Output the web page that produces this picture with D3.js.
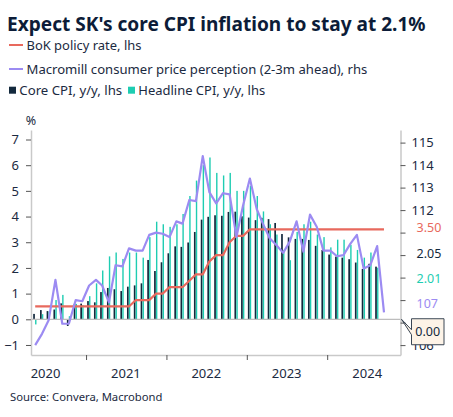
<!DOCTYPE html>
<html>
<head>
<meta charset="utf-8">
<script src="https://cdn.jsdelivr.net/npm/d3@7"></script>
<style>
  html, body { margin: 0; padding: 0; background: #fff; }
  svg text { font-family: "Noto Sans", "Open Sans", sans-serif; }
</style>
</head>
<body>
<div id="chart"></div>
<script>
/*
    SK inflation chart: core / headline CPI bars, BoK rate and
    Macromill price perception lines
*/

// monthly categories, May 2020 .. Sep 2024
var months = [
    "2020-05", "2020-06", "2020-07", "2020-08", "2020-09", "2020-10", "2020-11", "2020-12",
    "2021-01", "2021-02", "2021-03", "2021-04", "2021-05", "2021-06",
    "2021-07", "2021-08", "2021-09", "2021-10", "2021-11", "2021-12",
    "2022-01", "2022-02", "2022-03", "2022-04", "2022-05", "2022-06",
    "2022-07", "2022-08", "2022-09", "2022-10", "2022-11", "2022-12",
    "2023-01", "2023-02", "2023-03", "2023-04", "2023-05", "2023-06",
    "2023-07", "2023-08", "2023-09", "2023-10", "2023-11", "2023-12",
    "2024-01", "2024-02", "2024-03", "2024-04", "2024-05", "2024-06",
    "2024-07", "2024-08", "2024-09"
]

// Core CPI y/y, lhs (May 2020 .. Aug 2024)
var coreCPI = [
    0.21, 0.36, 0.32, 0.38, 0.62, -0.26, 0.60, 0.61, 0.71, 0.66,
    1.06, 1.22, 1.17, 1.10, 1.27, 1.32, 1.40, 2.31, 1.88, 2.22,
    2.57, 2.84, 2.82, 2.99, 3.40, 3.88, 3.99, 4.05, 4.03, 4.18,
    4.19, 4.01, 3.96, 3.86, 3.95, 3.90, 3.75, 3.32, 3.19, 3.13,
    3.13, 3.09, 2.86, 2.70, 2.52, 2.44, 2.40, 2.34, 2.21, 1.96,
    2.16, 2.05
]

// Headline CPI y/y, lhs (May 2020 .. Aug 2024)
var headlineCPI = [
    -0.2, 0.2, 0.3, 0.75, 0.95, 0.12, 0.6, 0.55, 0.9, 1.4,
    1.9, 2.45, 2.6, 2.35, 2.6, 2.6, 2.4, 3.2, 3.8, 3.7,
    3.6, 3.7, 4.1, 4.8, 5.4, 6.0, 6.3, 5.7, 5.6, 5.7,
    5.0, 5.0, 5.2, 4.8, 4.2, 3.7, 3.3, 2.7, 2.3, 3.4,
    3.7, 3.8, 3.3, 3.2, 2.8, 3.1, 3.1, 2.9, 2.7, 2.4,
    2.6, 2.01
]

// BoK policy rate, lhs (May 2020 .. Sep 2024)
var bokRate = [
    0.5, 0.5, 0.5, 0.5, 0.5, 0.5, 0.5, 0.5, 0.5, 0.5,
    0.5, 0.5, 0.5, 0.5, 0.5, 0.75, 0.75, 0.75, 1.0, 1.0,
    1.25, 1.25, 1.25, 1.5, 1.75, 1.75, 2.25, 2.5, 2.5, 3.0,
    3.25, 3.25, 3.5, 3.5, 3.5, 3.5, 3.5, 3.5, 3.5, 3.5,
    3.5, 3.5, 3.5, 3.5, 3.5, 3.5, 3.5, 3.5, 3.5, 3.5,
    3.5, 3.5, 3.5
]

// Macromill consumer price perception (2-3m ahead), rhs (May 2020 .. Sep 2024)
var macromill = [
    106.0, 106.5, 107.1, 108.9, 106.95, 106.95, 108.0, 107.95, 108.65, 108.9,
    108.65, 107.9, 109.55, 109.5, 110.3, 110.2, 110.2, 110.9, 111.0, 110.95,
    110.8, 111.5, 111.4, 112.45, 112.4, 114.4, 112.8, 112.3, 112.75, 112.7,
    110.8, 112.2, 113.4, 112.05, 111.4, 110.75, 110.45, 110.1, 110.6, 111.5,
    110.15, 111.8, 111.25, 110.2, 110.2, 109.95, 110.0, 110.5, 110.9, 109.4,
    109.55, 110.4, 107.45
]

// axis ticks
var leftTicks = [-1, 0, 1, 2, 3, 4, 5, 6, 7]
var rightTicks = [106, 107, 108, 109, 110, 111, 112, 113, 114, 115]
var rightTickLabels = [106, 112, 113, 114, 115]
var yearTicks = ["2021-01-01", "2022-01-01", "2023-01-01", "2024-01-01"]
var yearLabels = ["2020", "2021", "2022", "2023", "2024"]

var colors = {
    core: "#13293d",
    headline: "#1ecdb2",
    bok: "#e8695d",
    macro: "#9c8bf2",
    text: "#1b2a41",
    axis: "#c9c9c9"
}

var W = 453, H = 417

var svg = d3.select("#chart").append("svg")
    .attr("width", W)
    .attr("height", H)
    .style("background", "#fff")

var parseMonth = d3.timeParse("%Y-%m")
var midMonth = function( m ) {
    var d = parseMonth(m)
    return new Date(d.getFullYear(), d.getMonth(), 15)
}

// plot frame
var plot = { left: 31, right: 400.5, top: 130, bottom: 355 }

var x = d3.scaleTime()
    .domain([new Date(2020, 3, 26), new Date(2024, 10, 29)])
    .range([plot.left, plot.right])

var yL = d3.scaleLinear()
    .domain([-1.39, 7.37])
    .range([plot.bottom, plot.top])

var yR = d3.scaleLinear()
    .domain([105.56, 115.56])
    .range([plot.bottom, plot.top])

function fit(sel, w) {
    var L = sel.node().getComputedTextLength()
    var fs = parseFloat(sel.attr("font-size"))
    sel.attr("font-size", fs * w / L)
}

// Title
svg.append("text")
    .attr("x", 7)
    .attr("y", 30.5)
    .attr("font-size", 19)
    .attr("font-weight", "bold")
    .attr("fill", "#0c1c38")
    .text("Expect SK's core CPI inflation to stay at 2.1%")
    .call(fit, 419)

// Legend
var legendLines = [
    { label: "BoK policy rate, lhs", color: colors.bok, y: 45, w: 115 },
    { label: "Macromill consumer price perception (2-3m ahead), rhs", color: colors.macro, y: 69, w: 341 }
]
legendLines.forEach(function( d ) {
    svg.append("line")
        .attr("x1", 9).attr("x2", 23)
        .attr("y1", d.y).attr("y2", d.y)
        .attr("stroke", d.color)
        .attr("stroke-width", 2)
    svg.append("text")
        .attr("x", 26.5)
        .attr("y", d.y + 4.6)
        .attr("font-size", 13)
        .attr("fill", colors.text)
        .text(d.label)
        .call(fit, d.w)
})

var legendBars = [
    { label: "Core CPI, y/y, lhs", color: colors.core, x: 9, w: 103 },
    { label: "Headline CPI, y/y, lhs", color: colors.headline, x: 128, w: 127 }
]
legendBars.forEach(function( d ) {
    svg.append("rect")
        .attr("x", d.x).attr("y", 86.7)
        .attr("width", 7).attr("height", 7)
        .attr("fill", d.color)
    svg.append("text")
        .attr("x", d.x + 10.3)
        .attr("y", 94.6)
        .attr("font-size", 13)
        .attr("fill", colors.text)
        .text(d.label)
        .call(fit, d.w)
})

// "%" unit label
svg.append("text")
    .attr("x", 31)
    .attr("y", 125)
    .attr("text-anchor", "middle")
    .attr("font-size", 12.5)
    .attr("fill", colors.text)
    .text("%")

// Bars
var barData = coreCPI.map(function( v, i ) {
    return { date: midMonth(months[i]), core: v, headline: headlineCPI[i] }
})

svg.append("g").selectAll("rect")
    .data(barData)
    .enter().append("rect")
    .attr("x", function( d ) { return x(d.date) - 2.0 })
    .attr("width", 1.7)
    .attr("y", function( d ) { return Math.min(yL(d.core), yL(0)) })
    .attr("height", function( d ) { return Math.abs(yL(d.core) - yL(0)) })
    .attr("fill", colors.core)

svg.append("g").selectAll("rect")
    .data(barData)
    .enter().append("rect")
    .attr("x", function( d ) { return x(d.date) - 0.1 })
    .attr("width", 1.4)
    .attr("y", function( d ) { return Math.min(yL(d.headline), yL(0)) })
    .attr("height", function( d ) { return Math.abs(yL(d.headline) - yL(0)) })
    .attr("fill", colors.headline)

// zero line
svg.append("line")
    .attr("x1", plot.left).attr("x2", plot.right)
    .attr("y1", yL(0)).attr("y2", yL(0))
    .attr("stroke", "#bdbdbd")
    .attr("stroke-width", 1.2)

// Lines
var bokLine = d3.line()
    .x( function( d, i ) { return x(midMonth(months[i])) })
    .y( function( d ) { return yL(d) })

var macroLine = d3.line()
    .x( function( d, i ) { return x(midMonth(months[i])) })
    .y( function( d ) { return yR(d) })

svg.append("path")
    .attr("d", bokLine(bokRate))
    .attr("fill", "none")
    .attr("stroke", colors.bok)
    .attr("stroke-width", 2.2)

svg.append("path")
    .attr("d", macroLine(macromill))
    .attr("fill", "none")
    .attr("stroke", colors.macro)
    .attr("stroke-width", 2.2)
    .attr("stroke-linejoin", "round")

// Axes
function styleAxis(g) {
    g.select(".domain").attr("stroke", colors.axis).attr("stroke-width", 1.5)
    g.selectAll(".tick line").attr("stroke", "#555").attr("stroke-width", 1)
    g.selectAll(".tick text")
        .attr("fill", colors.text)
        .attr("font-size", 13)
        .style("font-family", "'Noto Sans', sans-serif")
}

svg.append("g")
    .attr("transform", "translate(" + plot.left + ",0)")
    .call(d3.axisLeft(yL).tickValues(leftTicks).tickSize(5).tickPadding(7).tickSizeOuter(0))
    .call(styleAxis)

svg.append("g")
    .attr("transform", "translate(" + plot.right + ",0)")
    .call(d3.axisRight(yR).tickValues(rightTicks).tickSize(5).tickPadding(6).tickSizeOuter(0)
        .tickFormat(function( d ) { return rightTickLabels.indexOf(d) >= 0 ? d : "" }))
    .call(styleAxis)

var xAxis = svg.append("g")
    .attr("transform", "translate(0," + plot.bottom + ")")
    .call(d3.axisBottom(x)
        .tickValues(yearTicks.map(function( d ) { return new Date(d + "T00:00") }))
        .tickSize(5).tickSizeOuter(0).tickFormat(""))
    .call(styleAxis)

svg.append("g").selectAll("text")
    .data(yearLabels)
    .enter().append("text")
    .attr("x", function( d ) { return x(new Date(+d, 6, 1)) })
    .attr("y", 377.5)
    .attr("text-anchor", "middle")
    .attr("font-size", 13)
    .attr("fill", colors.text)
    .text(function( d ) { return d })

// Last value labels on the right, dodged apart
var lastIdx = coreCPI.length - 1
var valueLabels = [
    { text: d3.format(".2f")(bokRate[bokRate.length - 1]), y: yL(bokRate[bokRate.length - 1]), color: colors.bok, h: 25.4 },
    { text: d3.format(".2f")(coreCPI[lastIdx]), y: yL(coreCPI[lastIdx]), color: colors.core, h: 25.4 },
    { text: d3.format(".2f")(headlineCPI[lastIdx]), y: yL(headlineCPI[lastIdx]), color: colors.headline, h: 25.4 },
    { text: d3.format(".0f")(macromill[macromill.length - 1]), y: yR(macromill[macromill.length - 1]), color: colors.macro, h: 25.4 },
    { text: d3.format(".2f")(0), y: yL(0), color: colors.core, h: 30, box: true }
]
valueLabels.sort(function( a, b ) { return a.y - b.y })
for (var it = 0; it < 100; it++) {
    for (var k = 0; k < valueLabels.length - 1; k++) {
        var a = valueLabels[k], b = valueLabels[k + 1]
        var gap = (a.h + b.h) / 2
        if (b.y - a.y < gap) {
            var over = gap - (b.y - a.y)
            a.y -= over / 2
            b.y += over / 2
        }
    }
}

valueLabels.forEach(function( d ) {
    if (d.box) {
        var bx = 411.5, bw = 32.5, bh = 26, cy = d.y
        var tipY = yL(0)
        svg.append("path")
            .attr("d", "M" + bx + "," + (cy - bh / 2) +
                "L" + (bx + bw) + "," + (cy - bh / 2) +
                "L" + (bx + bw) + "," + (cy + bh / 2) +
                "L" + bx + "," + (cy + bh / 2) +
                "L" + bx + "," + (cy + 3) +
                "L" + (plot.right + 1) + "," + tipY +
                "L" + bx + "," + (cy - 2) + "Z")
            .attr("fill", "#fdf3e7")
            .attr("stroke", "#3a4654")
            .attr("stroke-width", 1)
        svg.append("text")
            .attr("x", bx + bw / 2)
            .attr("y", cy + 4.6)
            .attr("text-anchor", "middle")
            .attr("font-size", 12.5)
            .attr("fill", d.color)
            .text(d.text)
    } else {
        svg.append("text")
            .attr("x", 416.5)
            .attr("y", d.y + 4.4)
            .attr("font-size", 12.5)
            .attr("fill", d.color)
            .text(d.text)
    }
})

// Source
svg.append("text")
    .attr("x", 10)
    .attr("y", 400.5)
    .attr("font-size", 11.5)
    .attr("fill", colors.text)
    .text("Source: Convera, Macrobond")
    .call(fit, 152.5)
</script>
</body>
</html>
